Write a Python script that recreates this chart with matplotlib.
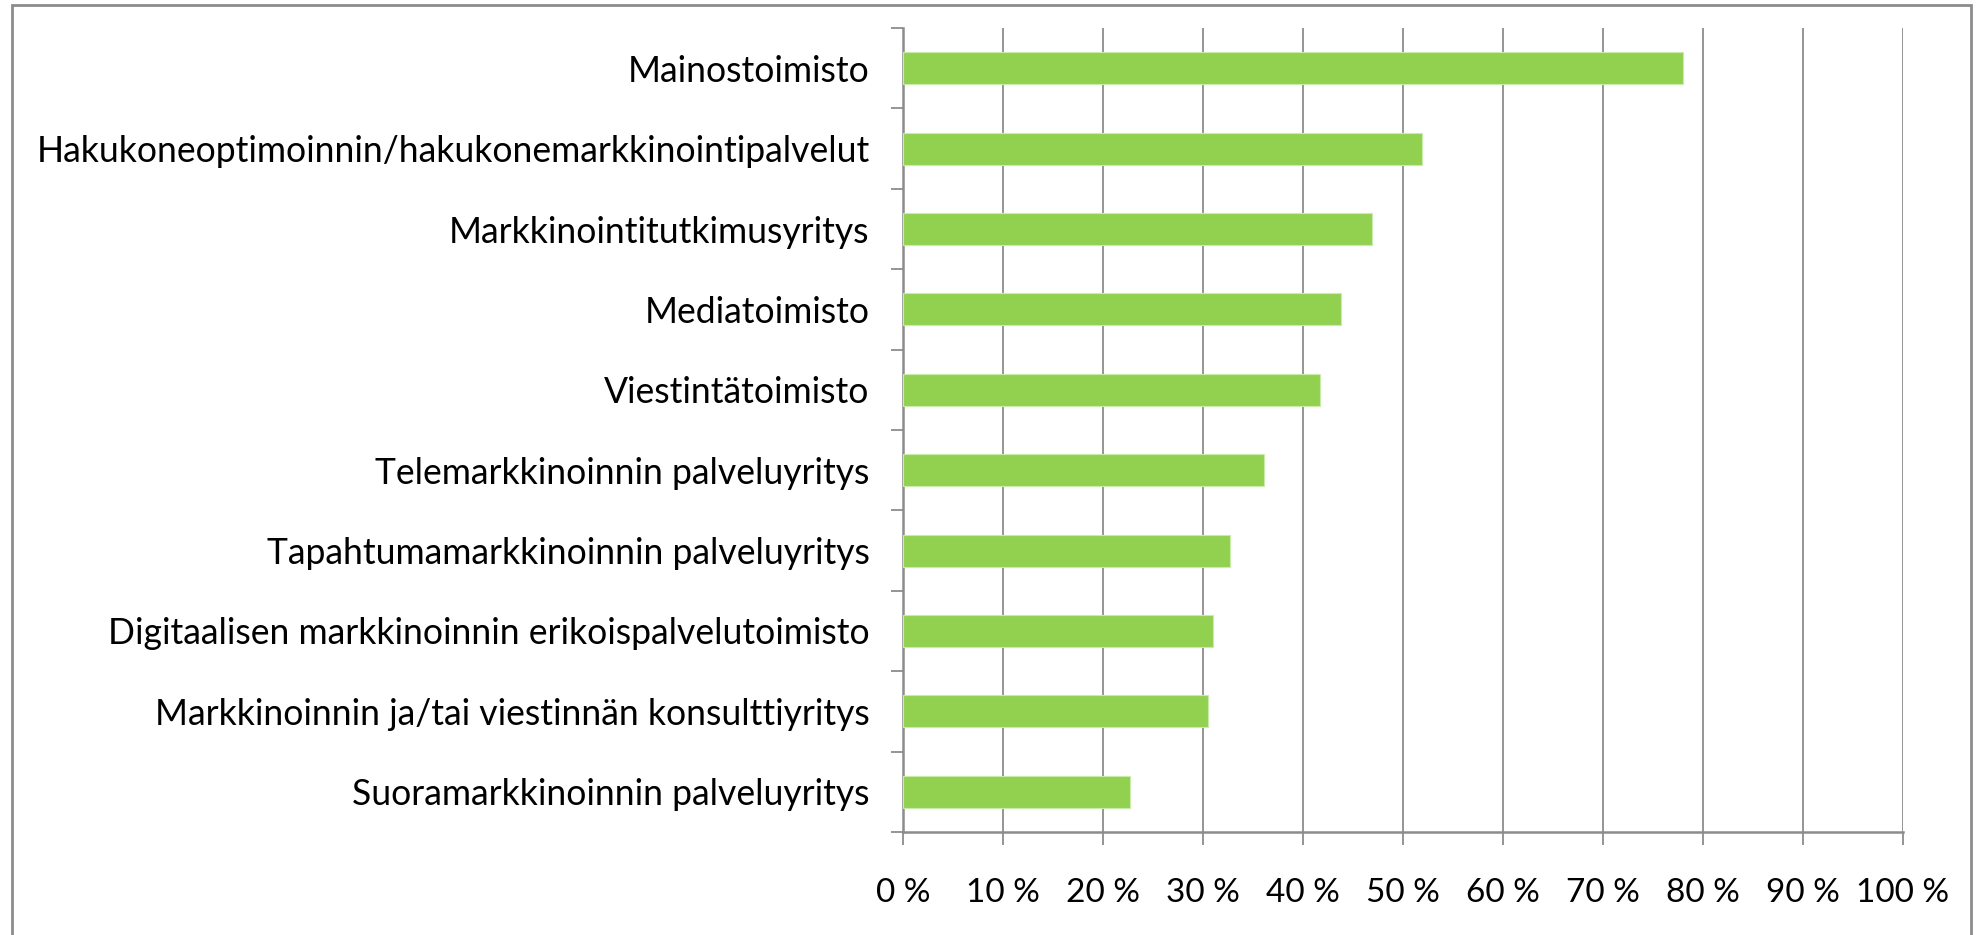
import matplotlib.pyplot as plt
from matplotlib.patches import Rectangle
from matplotlib.ticker import FixedLocator

# categories from top to bottom as in the chart
categories = [
    "Mainostoimisto",
    "Hakukoneoptimoinnin/hakukonemarkkinointipalvelut",
    "Markkinointitutkimusyritys",
    "Mediatoimisto",
    "Viestintätoimisto",
    "Telemarkkinoinnin palveluyritys",
    "Tapahtumamarkkinoinnin palveluyritys",
    "Digitaalisen markkinoinnin erikoispalvelutoimisto",
    "Markkinoinnin ja/tai viestinnän konsulttiyritys",
    "Suoramarkkinoinnin palveluyritys",
]
values = [78.0, 51.9, 46.9, 43.8, 41.7, 36.1, 32.7, 31.0, 30.5, 22.7]
xticks = [0, 10, 20, 30, 40, 50, 60, 70, 80, 90, 100]
xtick_labels = [f"{v} %" for v in xticks]

plt.rcParams['font.family'] = ['Lato', 'DejaVu Sans']

fig = plt.figure(figsize=(19.77, 9.35), dpi=100)
ax = fig.add_axes([903 / 1977, 1 - 832 / 935, 1000 / 1977, 804 / 935])

# outer chart border (cut off at the bottom like the original)
fig.patches.append(Rectangle((12 / 1977, -0.05), 1959 / 1977, 1.05 - 5 / 935,
                             transform=fig.transFigure, fill=False,
                             edgecolor='#8c8c8c', linewidth=2))

n = len(categories)
ypos = list(range(n - 1, -1, -1))
ax.barh(ypos, values, height=0.4, color='#92D050', edgecolor='#c8ecaa', linewidth=0.8, zorder=3)

ax.set_xlim(0, 100)
ax.set_ylim(-0.5, n - 0.5)
ax.set_xticks(xticks)
ax.set_xticklabels(xtick_labels, fontsize=24)
ax.xaxis.grid(True, color='#8c8c8c', linewidth=1.3, zorder=0)

ax.set_yticks(ypos)
ax.set_yticklabels(categories, fontsize=25.6)
ax.yaxis.set_minor_locator(FixedLocator([i - 0.5 for i in range(n + 1)]))
ax.tick_params(axis='y', which='major', length=0, pad=24)
ax.tick_params(axis='y', which='minor', length=9, width=1.3, color='#8c8c8c')
ax.tick_params(axis='x', which='major', length=9, width=1.3, color='#8c8c8c', pad=24)

for s in ['top', 'right']:
    ax.spines[s].set_visible(False)
for s in ['left', 'bottom']:
    ax.spines[s].set_color('#8c8c8c')
    ax.spines[s].set_linewidth(1.8)

fig.savefig('out.png', dpi=100, facecolor='white')
